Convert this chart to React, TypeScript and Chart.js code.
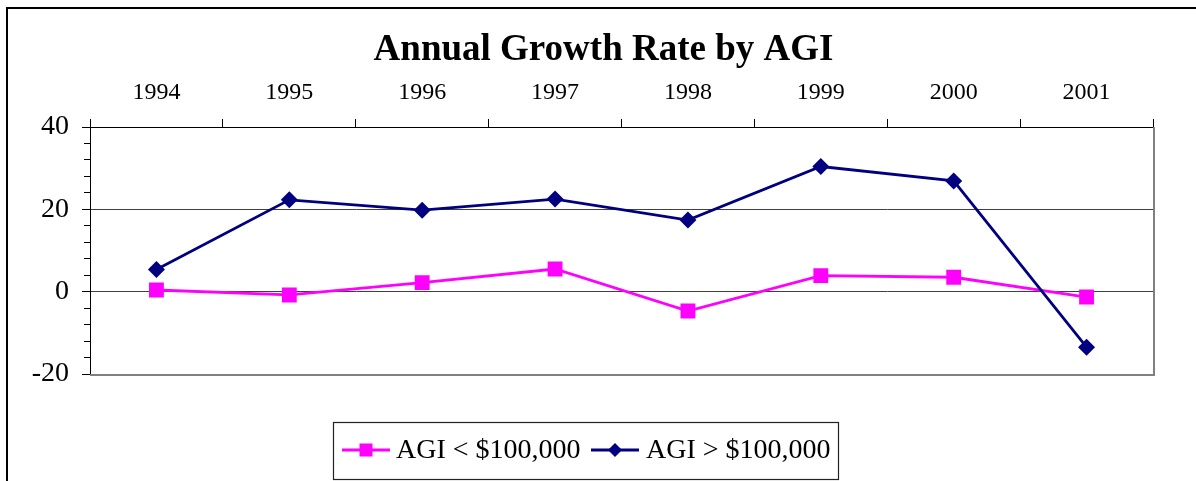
import React, { useEffect, useRef } from "react";
import { Chart, registerables } from "chart.js";

Chart.register(...registerables);

const years = ["1994", "1995", "1996", "1997", "1998", "1999", "2000", "2001"];
const agiUnder100k = [0.4, -0.8, 2.2, 5.5, -4.7, 3.9, 3.5, -1.3];
const agiOver100k = [5.4, 22.3, 19.8, 22.5, 17.4, 30.4, 26.9, -13.5];
const yTickValues = [-20, 0, 20, 40];
const titleText = "Annual Growth Rate by AGI";
const seriesNames = ["AGI < $100,000", "AGI > $100,000"];
const seriesColors = ["#FF00FF", "#000080"];

const SERIF = "'Liberation Serif', 'Times New Roman', serif";

const decorPlugin = {
  id: "decor",
  beforeDatasetsDraw(chart: any) {
    const { ctx, chartArea } = chart;
    ctx.save();
    ctx.strokeStyle = "#808080";
    ctx.lineWidth = 2;
    ctx.beginPath();
    ctx.moveTo(chartArea.right + 1, chartArea.top);
    ctx.lineTo(chartArea.right + 1, chartArea.bottom + 1);
    ctx.lineTo(chartArea.left, chartArea.bottom + 1);
    ctx.stroke();
    ctx.restore();
  },
  afterDraw(chart: any) {
    const { ctx } = chart;
    ctx.save();
    // outer frame
    ctx.strokeStyle = "#000";
    ctx.lineWidth = 2;
    ctx.strokeRect(7, 8, 1400, 700);
    // title
    ctx.fillStyle = "#000";
    ctx.font = `bold 37px ${SERIF}`;
    ctx.textAlign = "center";
    ctx.textBaseline = "alphabetic";
    ctx.fillText(titleText, 603.5, 60);
    // legend
    ctx.lineWidth = 1.2;
    ctx.strokeStyle = "#222";
    ctx.strokeRect(333.5, 422.5, 505, 57);
    const ly = 450;
    ctx.font = `28px ${SERIF}`;
    ctx.textAlign = "left";
    ctx.textBaseline = "middle";
    // series 1
    ctx.strokeStyle = seriesColors[0];
    ctx.lineWidth = 2.8;
    ctx.beginPath();
    ctx.moveTo(342, ly);
    ctx.lineTo(390, ly);
    ctx.stroke();
    ctx.fillStyle = seriesColors[0];
    ctx.fillRect(366 - 6.5, ly - 6.5, 13, 13);
    ctx.fillStyle = "#000";
    ctx.fillText(seriesNames[0], 396, ly + 1);
    // series 2
    ctx.strokeStyle = seriesColors[1];
    ctx.beginPath();
    ctx.moveTo(591, ly);
    ctx.lineTo(639, ly);
    ctx.stroke();
    ctx.fillStyle = seriesColors[1];
    ctx.beginPath();
    ctx.moveTo(615, ly - 7);
    ctx.lineTo(622, ly);
    ctx.lineTo(615, ly + 7);
    ctx.lineTo(608, ly);
    ctx.closePath();
    ctx.fill();
    ctx.fillStyle = "#000";
    ctx.fillText(seriesNames[1], 646, ly + 1);
    ctx.restore();
  },
};

export default function App() {
  const canvasRef = useRef<HTMLCanvasElement | null>(null);

  useEffect(() => {
    if (!canvasRef.current) return;
    const chart = new Chart(canvasRef.current, {
      type: "line",
      data: {
        labels: years,
        datasets: [
          {
            label: seriesNames[0],
            data: agiUnder100k,
            borderColor: seriesColors[0],
            backgroundColor: seriesColors[0],
            borderWidth: 2.8,
            pointStyle: "rect",
            pointRadius: 10.5,
            pointHoverRadius: 10.5,
            pointBorderWidth: 0,
            tension: 0,
            order: 1,
          },
          {
            label: seriesNames[1],
            data: agiOver100k,
            borderColor: seriesColors[1],
            backgroundColor: seriesColors[1],
            borderWidth: 2.8,
            pointStyle: "rectRot",
            pointRadius: 8.5,
            pointHoverRadius: 8.5,
            pointBorderWidth: 0,
            tension: 0,
            order: 0,
          },
        ],
      },
      options: {
        responsive: false,
        animation: false,
        layout: { padding: { top: 60, left: 0, right: 43, bottom: 107 } },
        plugins: {
          legend: { display: false },
          title: { display: false },
          tooltip: { enabled: false },
        },
        scales: {
          x: {
            type: "category",
            position: "top",
            offset: true,
            grid: {
              offset: true,
              drawOnChartArea: false,
              drawTicks: true,
              tickLength: 8,
              color: "#000",
            },
            border: { display: true, color: "#000", width: 1 },
            ticks: {
              color: "#000",
              font: { family: SERIF, size: 24 },
              padding: 12,
              maxRotation: 0,
              autoSkip: false,
            },
            afterFit: (s: any) => {
              s.height = 67;
            },
          },
          y: {
            position: "left",
            weight: 1,
            min: -20,
            max: 40,
            afterBuildTicks: (s: any) => {
              s.ticks = yTickValues.map((v) => ({ value: v }));
            },
            ticks: {
              color: "#000",
              font: { family: SERIF, size: 28 },
              padding: 13,
            },
            grid: {
              color: "#404040",
              tickColor: "#000",
              tickLength: 8,
              lineWidth: 1,
            },
            border: { display: true, color: "#000", width: 1 },
            afterFit: (s: any) => {
              s.width = 90;
            },
          },
          yMinor: {
            type: "linear",
            position: "left",
            weight: 0,
            min: -20,
            max: 40,
            ticks: { display: false, stepSize: 4 },
            grid: {
              drawOnChartArea: false,
              drawTicks: true,
              tickLength: 6,
              color: "#000",
            },
            border: { display: false },
            afterFit: (s: any) => {
              s.width = 0;
            },
          },
        },
      },
      plugins: [decorPlugin],
    });
    return () => chart.destroy();
  }, []);

  return (
    <div style={{ position: "absolute", left: 0, top: 0, width: 1196, height: 481, background: "#fff" }}>
      <canvas ref={canvasRef} width={1196} height={481} />
    </div>
  );
}
